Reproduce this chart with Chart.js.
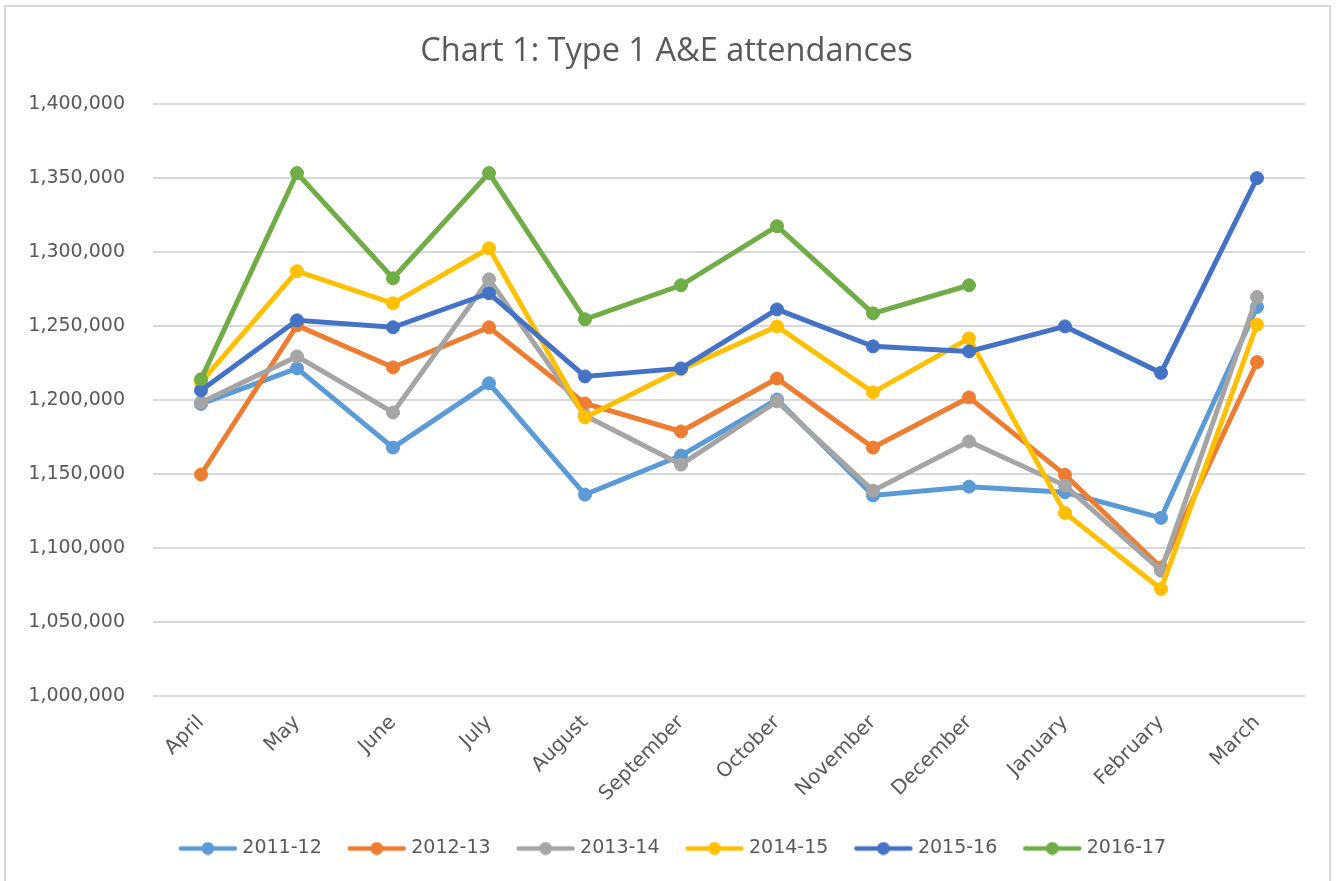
<!DOCTYPE html>
<html>
<head>
<meta charset="utf-8">
<script src="https://cdn.jsdelivr.net/npm/chart.js@4.4.0/dist/chart.umd.min.js"></script>
<style>
  body { margin: 0; background: #fff; }
  #wrap { position: relative; width: 1336px; height: 881px; }
  #frame { position: absolute; left: 4px; top: 5px; width: 1327px; height: 890px; border: 2px solid #d9d9d9; box-sizing: border-box; }
  canvas { position: absolute; left: 0; top: 0; }
</style>
</head>
<body>
<div id="wrap">
  <div id="frame"></div>
  <canvas id="attendances" width="1336" height="881"></canvas>
</div>
<script>
const months = ["April", "May", "June", "July", "August", "September", "October", "November", "December", "January", "February", "March"];

const y2011 = [1197300, 1221300, 1167800, 1211200, 1136000, 1162400, 1200300, 1135400, 1141400, 1137600, 1120300, 1262800];
const y2012 = [1149600, 1250400, 1222000, 1249100, 1197600, 1178700, 1214500, 1167800, 1201700, 1149400, 1086800, 1225600];
const y2013 = [1198300, 1229400, 1191500, 1281500, 1189500, 1156300, 1199000, 1138700, 1171900, 1142100, 1084600, 1269600];
const y2014 = [1212000, 1287000, 1265300, 1302500, 1188200, 1220600, 1249700, 1205100, 1241600, 1123600, 1072200, 1250900];
const y2015 = [1206400, 1253800, 1249100, 1272100, 1215900, 1221300, 1261200, 1236200, 1232800, 1249700, 1218300, 1349900];
const y2016 = [1213900, 1353300, 1282200, 1353300, 1254500, 1277500, 1317400, 1258500, 1277500, null, null, null];

const seriesNames = ["2011-12", "2012-13", "2013-14", "2014-15", "2015-16", "2016-17"];
const seriesValues = [y2011, y2012, y2013, y2014, y2015, y2016];
const colours = ["#5b9bd5", "#ed7d31", "#a5a5a5", "#ffc000", "#4472c4", "#70ad47"];

const textColour = "#595959";

// little line + dot picture for each legend entry
function legendMark(colour) {
  const c = document.createElement("canvas");
  c.width = 60;
  c.height = 14;
  const g = c.getContext("2d");
  g.strokeStyle = colour;
  g.lineWidth = 4.5;
  g.lineCap = "round";
  g.beginPath();
  g.moveTo(3, 7);
  g.lineTo(57, 7);
  g.stroke();
  g.fillStyle = colour;
  g.beginPath();
  g.arc(30, 7, 6.5, 0, Math.PI * 2);
  g.fill();
  return c;
}

// nudge the legend row a little to the right, like the original
const legendShift = {
  id: "legendShift",
  afterLayout(chart) {
    chart.legend.left += 8;
    chart.legend.right += 8;
  }
};

const datasets = seriesNames.map((name, i) => ({
  label: name,
  data: seriesValues[i],
  borderColor: colours[i],
  backgroundColor: colours[i],
  pointBackgroundColor: colours[i],
  pointBorderColor: colours[i],
  borderWidth: 5,
  pointRadius: 6.5,
  pointHoverRadius: 6.5,
  pointBorderWidth: 1,
  tension: 0,
  order: seriesNames.length - i
}));

const ctx = document.getElementById("attendances");

new Chart(ctx, {
  type: "line",
  data: {
    labels: months,
    datasets: datasets
  },
  plugins: [legendShift],
  options: {
    responsive: false,
    animation: false,
    layout: {
      padding: { left: 28, right: 31, top: 0, bottom: 13 }
    },
    scales: {
      x: {
        offset: true,
        grid: { display: false, drawTicks: false },
        border: { display: false },
        afterFit: scale => {
          scale.paddingLeft = 0;
          scale.paddingRight = 0;
          scale.height -= 12;
        },
        ticks: {
          color: textColour,
          font: { family: "DejaVu Sans", size: 20 },
          maxRotation: 45,
          minRotation: 45,
          padding: 15,
          autoSkip: false
        }
      },
      y: {
        min: 1000000,
        max: 1400000,
        grid: { color: "#d9d9d9", lineWidth: 2, drawTicks: false },
        border: { display: false },
        afterFit: scale => {
          scale.width = 125;
        },
        ticks: {
          stepSize: 50000,
          color: textColour,
          padding: 28,
          font: { family: "DejaVu Sans", size: 19 },
          callback: v => v.toLocaleString("en-GB")
        }
      }
    },
    plugins: {
      title: {
        display: true,
        text: "Chart 1: Type 1 A&E attendances",
        color: textColour,
        font: { family: "Open Sans", size: 32.5, weight: "normal" },
        padding: { top: 32, bottom: 33 }
      },
      legend: {
        position: "bottom",
        labels: {
          color: textColour,
          font: { family: "DejaVu Sans", size: 19 },
          usePointStyle: true,
          pointStyleWidth: 50,
          padding: 30,
          generateLabels: chart => chart.data.datasets.map((ds, i) => ({
            text: ds.label,
            pointStyle: legendMark(ds.borderColor),
            fillStyle: ds.borderColor,
            strokeStyle: ds.borderColor,
            lineWidth: 0,
            fontColor: textColour,
            datasetIndex: i,
            hidden: false
          }))
        }
      },
      tooltip: { enabled: false }
    }
  }
});
</script>
</body>
</html>
